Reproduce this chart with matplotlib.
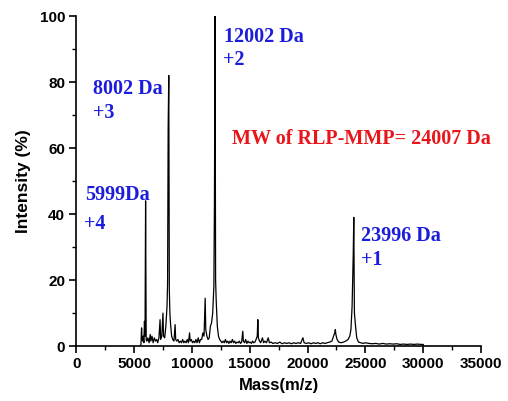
import matplotlib
matplotlib.use("Agg")
import matplotlib.pyplot as plt
from matplotlib.ticker import MultipleLocator

# spectrum (mass, intensity %)
mass = [5500, 5600, 5650, 5700, 5750, 5800, 5850, 5900, 5950, 5999, 6050, 6100,
        6200, 6300, 6400, 6450, 6550, 6650, 6750, 6850, 6950, 7050, 7150, 7250,
        7300, 7400, 7500, 7550, 7650, 7750, 7850, 7900, 7950, 8002, 8050, 8100,
        8150, 8250, 8350, 8450, 8550, 8600, 8700, 8800, 8900, 9000, 9100, 9200,
        9300, 9400, 9500, 9600, 9700, 9800, 9850, 9950, 10050, 10150, 10250,
        10350, 10450, 10550, 10650, 10750, 10850, 10950, 11050, 11150, 11200,
        11300, 11400, 11500, 11600, 11700, 11800, 11900, 11950, 12002, 12050,
        12100, 12150, 12200, 12300, 12400, 12500, 12600, 12700, 12800, 12900,
        13000, 13100, 13200, 13300, 13400, 13500, 13600, 13700, 13800, 13900,
        14000, 14100, 14200, 14300, 14400, 14450, 14550, 14650, 14750, 14850,
        14950, 15050, 15150, 15250, 15350, 15450, 15550, 15650, 15700, 15750,
        15850, 15950, 16100, 16200, 16300, 16450, 16600, 16700, 16850, 17000,
        17200, 17400, 17600, 17800, 18000, 18200, 18400, 18600, 18800, 19000,
        19200, 19400, 19600, 19700, 19900, 20100, 20300, 20500, 20700, 20900,
        21100, 21300, 21500, 21700, 21900, 22100, 22250, 22350, 22400, 22450,
        22550, 22700, 22900, 23100, 23300, 23500, 23650, 23750, 23850, 23950,
        23996, 24050, 24150, 24250, 24400, 24600, 24800, 25000, 25300, 25600,
        25900, 26200, 26500, 26800, 27100, 27400, 27700, 28000, 28300, 28600,
        28900, 29200, 29500, 29800, 30000, 30050]
intensity = [0, 0.5, 5.5, 2, 1.5, 3, 1, 7.5, 3, 44, 2, 1.5,
             2.5, 1, 3.5, 1.5, 3, 1, 2.5, 1.5, 2, 1, 2.5, 8,
             2, 3, 10, 3, 2.5, 6, 12, 19, 66, 82, 17, 10,
             7, 3, 2, 1.5, 6.5, 2, 1.5, 2, 1, 1.5, 1, 2,
             1, 1.5, 1, 2, 1, 4, 1.5, 2, 1, 1.5, 1,
             2, 1, 2.5, 1, 2, 2, 4, 3, 14.5, 5,
             3, 2, 2.5, 6, 7, 10, 18, 43, 100, 20,
             14, 10, 6, 3, 2, 1.5, 1, 1.5, 1, 2,
             1, 1.5, 0.8, 1.5, 1, 2, 1, 1.5, 0.8, 1.2,
             1, 1.5, 0.8, 1.2, 4.5, 1.5, 1, 2, 0.8, 1.5,
             1, 1.2, 0.8, 1.5, 1, 1.2, 2, 3, 8, 2.5,
             1.5, 1, 2.5, 1, 1.5, 1, 2.5, 1, 1.2, 0.8,
             1, 0.8, 1.2, 0.7, 1, 0.8, 1, 0.7, 1, 0.8,
             1, 0.8, 2.5, 1, 0.8, 1, 0.7, 1, 0.8, 1,
             0.7, 1, 0.8, 1, 1.2, 1.5, 3, 4, 5, 3.5,
             2, 1.2, 1, 1.2, 1.5, 2, 3, 5, 12, 28,
             39, 10, 6, 2.5, 1.2, 1, 0.8, 1, 0.8, 0.7,
             0.8, 0.6, 0.8, 0.6, 0.7, 0.6, 0.7, 0.5, 0.6, 0.5,
             0.6, 0.5, 0.6, 0.5, 0.5, 0]

# peak labels: mass line and charge line
peak_names = ["12002 Da", "8002 Da", "5999Da", "23996 Da"]
charges = ["+2", "+3", "+4", "+1"]
name_x = [12750, 1470, 780, 24650]
name_y = [92.1, 76.4, 44.2, 31.8]
charge_x = [12700, 1470, 650, 24650]
charge_y = [85.3, 69.1, 35.6, 24.5]

blue = "#1c1cdc"
red = "#e8161b"

fig = plt.figure(figsize=(5.08, 4.01), dpi=100)
ax = fig.add_axes([0.150, 0.137, 0.797, 0.823])

ax.plot(mass, intensity, color="black", lw=0.9)

for t, x, y in zip(peak_names, name_x, name_y):
    ax.text(x, y, t, color=blue, fontsize=14.5, fontweight="bold",
            family="Liberation Serif", va="baseline", ha="left")
for t, x, y in zip(charges, charge_x, charge_y):
    ax.text(x, y, t, color=blue, fontsize=14.5, fontweight="bold",
            family="Liberation Serif", va="baseline", ha="left")
ax.text(13460, 61.2, "MW of RLP-MMP= 24007 Da", color=red, fontsize=14.5,
        fontweight="bold", family="Liberation Serif", va="baseline", ha="left")

ax.set_xlim(0, 35000)
ax.set_ylim(0, 100)
ax.xaxis.set_major_locator(MultipleLocator(5000))
ax.xaxis.set_minor_locator(MultipleLocator(2500))
ax.yaxis.set_major_locator(MultipleLocator(20))
ax.yaxis.set_minor_locator(MultipleLocator(10))
ax.spines["top"].set_visible(False)
ax.spines["right"].set_visible(False)
for s in ["left", "bottom"]:
    ax.spines[s].set_linewidth(1.2)
ax.tick_params(which="major", length=5, width=1.2, direction="out", pad=3)
ax.tick_params(which="minor", length=3, width=1.0, direction="out")
for lab in ax.get_xticklabels() + ax.get_yticklabels():
    lab.set_family("Liberation Sans")
    lab.set_fontweight("bold")
    lab.set_fontsize(11)

ax.set_xlabel("Mass(m/z)", family="Liberation Sans", fontweight="bold", fontsize=12, labelpad=5)
ax.set_ylabel("Intensity (%)", family="Liberation Sans", fontweight="bold", fontsize=12.5, labelpad=6)

fig.savefig("out.png", dpi=100)
